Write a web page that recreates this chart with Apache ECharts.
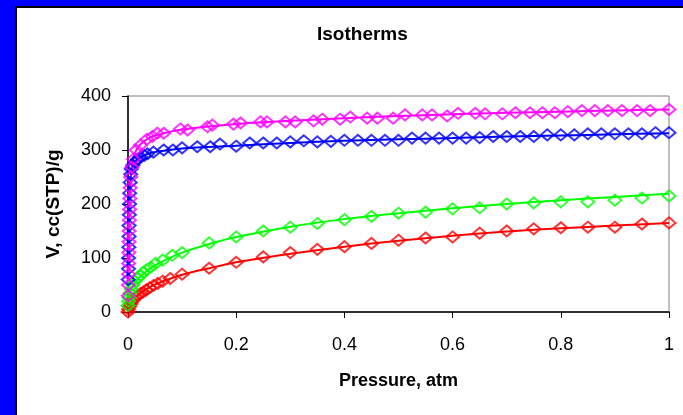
<!DOCTYPE html>
<html><head><meta charset="utf-8">
<script src="https://cdn.jsdelivr.net/npm/echarts@6/dist/echarts.min.js"></script>
<style>html,body{margin:0;padding:0;background:#fff}#c{width:683px;height:415px}</style>
</head><body><div id="c"></div>
<script>
const titleText = 'Isotherms';
const xName = 'Pressure, atm';
const yName = 'V, cc(STP)/g';
const xTicks = [0, 0.2, 0.4, 0.6, 0.8, 1];
const yTicks = [0, 100, 200, 300, 400];

// measured points [pressure, volume]
const redPts = [[0,0],[0.001,5],[0.003,10],[0.005,15],[0.007,19],[0.01,23],[0.014,27],[0.018,31],[0.023,34],[0.028,37],[0.034,41],[0.04,45],[0.047,49],[0.055,53],[0.064,57],[0.078,62],[0.1,70],[0.15,81],[0.2,92],[0.25,102],[0.3,110],[0.35,116],[0.4,121],[0.45,127],[0.5,133],[0.55,137],[0.6,139],[0.65,146],[0.7,150],[0.75,154],[0.8,156],[0.85,157],[0.9,157],[0.95,163],[1.0,165]];
const greenPts = [[0,12],[0.001,20],[0.002,27],[0.004,35],[0.006,42],[0.009,50],[0.013,57],[0.018,63],[0.023,68],[0.028,73],[0.034,78],[0.042,83],[0.051,90],[0.064,96],[0.082,105],[0.1,110],[0.15,128],[0.2,139],[0.25,150],[0.3,157],[0.35,164],[0.4,171],[0.45,177],[0.5,183],[0.55,185],[0.6,191],[0.65,193],[0.7,200],[0.75,202],[0.8,204],[0.85,204],[0.9,207],[0.95,211],[1.0,215]];
const bluePts = [[0.0005,60],[0.001,80],[0.001,100],[0.0015,120],[0.002,140],[0.002,160],[0.0025,180],[0.003,200],[0.003,220],[0.004,240],[0.005,255],[0.006,265],[0.009,272],[0.013,278],[0.018,283],[0.023,287],[0.03,290],[0.036,293],[0.047,296],[0.066,300],[0.083,300],[0.1,304],[0.128,306],[0.152,306],[0.17,311],[0.2,307],[0.225,313],[0.25,313],[0.275,313],[0.3,315],[0.325,317],[0.35,315],[0.375,316],[0.4,318],[0.425,318],[0.45,318],[0.475,318],[0.5,318],[0.525,322],[0.55,322],[0.575,322],[0.6,322],[0.625,322],[0.65,323],[0.675,325],[0.7,325],[0.725,325],[0.75,325],[0.775,328],[0.8,328],[0.825,328],[0.85,330],[0.875,330],[0.9,330],[0.925,330],[0.95,330],[0.975,332],[1.0,332]];
const magentaPts = [[0.0005,30],[0.0008,50],[0.001,70],[0.0012,90],[0.0015,110],[0.0018,130],[0.002,150],[0.0025,170],[0.003,190],[0.0035,210],[0.004,230],[0.005,250],[0.007,268],[0.01,283],[0.015,300],[0.023,309],[0.035,320],[0.045,325],[0.054,331],[0.066,331],[0.097,339],[0.11,337],[0.147,343],[0.156,346],[0.195,348],[0.208,350],[0.245,352],[0.257,352],[0.291,352],[0.309,352],[0.343,354],[0.359,357],[0.392,357],[0.411,361],[0.442,359],[0.461,359],[0.49,359],[0.512,365],[0.544,365],[0.562,365],[0.59,363],[0.61,368],[0.642,368],[0.66,367],[0.692,367],[0.716,369],[0.743,369],[0.766,369],[0.789,369],[0.813,371],[0.839,373],[0.863,373],[0.887,373],[0.913,373],[0.941,373],[0.965,373],[1.0,375]];

// fitted curves [pressure, volume]
const redFit = [[0,0],[0.005,14],[0.01,22],[0.02,33],[0.04,46],[0.06,55],[0.1,69],[0.15,81],[0.2,92],[0.3,108],[0.4,121],[0.5,132],[0.6,141],[0.7,149],[0.8,155],[0.9,160],[1.0,165]];
const greenFit = [[0,10],[0.005,40],[0.01,50],[0.02,63],[0.04,80],[0.06,92],[0.1,110],[0.15,126],[0.2,139],[0.3,158],[0.4,172],[0.5,183],[0.6,192],[0.7,200],[0.8,207],[0.9,213],[1.0,219]];
const blueFit = [[0,40],[0.001,110],[0.002,170],[0.003,215],[0.005,250],[0.01,272],[0.02,285],[0.04,294],[0.07,299],[0.1,303],[0.2,308],[0.3,313],[0.4,317],[0.5,320],[0.6,322],[0.7,325],[0.8,327],[0.9,329],[1.0,331]];
const magentaFit = [[0,20],[0.001,90],[0.002,160],[0.003,210],[0.005,250],[0.01,285],[0.02,307],[0.04,323],[0.07,332],[0.1,338],[0.2,348],[0.3,354],[0.4,359],[0.5,363],[0.6,366],[0.7,369],[0.8,371],[0.9,373],[1.0,375]];

const colors = {red:'#ff0000', green:'#00ff00', blue:'#0000ff', magenta:'#ff00ff'};
const FONT = '"Liberation Sans", Arial, sans-serif';

function lineS(data, c){
  return {type:'line', data, smooth:0.3, showSymbol:false, symbol:'none', lineStyle:{color:c,width:2}, z:2, silent:true};
}
function ptS(data, c){
  return {type:'scatter', data, symbol:'diamond', symbolSize:[13,11],
    itemStyle:{color:'rgba(0,0,0,0)', borderColor:c, borderWidth:2}, z:3, silent:true};
}

const chart = echarts.init(document.getElementById('c'), null, {renderer:'canvas'});
chart.setOption({
  animation:false,
  backgroundColor:'#fff',
  textStyle:{fontFamily:FONT},
  title:{text:titleText, left:312, top:20, textStyle:{fontFamily:FONT, fontSize:19, fontWeight:'bold', color:'#000'}},
  grid:{left:128, right:14, top:96, bottom:103, show:true, borderColor:'#808080', borderWidth:1, backgroundColor:'transparent'},
  xAxis:{type:'value', min:0, max:1, interval:0.2,
    name:xName, nameLocation:'middle', nameGap:60,
    nameTextStyle:{fontFamily:FONT, fontSize:18, fontWeight:'bold', color:'#000'},
    axisLine:{show:true, lineStyle:{color:'#000', width:1.5}},
    axisTick:{show:true, inside:false, length:6, lineStyle:{color:'#000'}},
    axisLabel:{fontFamily:FONT, fontSize:18, color:'#000', margin:24, formatter:v=>String(+v.toFixed(1))},
    splitLine:{show:false}},
  yAxis:{type:'value', min:0, max:400, interval:100,
    name:yName, nameLocation:'middle', nameGap:65, nameRotate:90,
    nameTextStyle:{fontFamily:FONT, fontSize:19, fontWeight:'bold', color:'#000'},
    axisLine:{show:true, lineStyle:{color:'#000', width:1.5}},
    axisTick:{show:true, inside:false, length:6, lineStyle:{color:'#000'}},
    axisLabel:{fontFamily:FONT, fontSize:18, color:'#000', margin:17},
    splitLine:{show:false}},
  graphic:[
    {type:'rect', shape:{x:0,y:0,width:15,height:415}, style:{fill:'#0000ff'}, z:100},
    {type:'rect', shape:{x:0,y:0,width:683,height:6}, style:{fill:'#0000ff'}, z:100},
    {type:'rect', shape:{x:15,y:6,width:2,height:409}, style:{fill:'#000'}, z:100},
    {type:'rect', shape:{x:15,y:6,width:668,height:2}, style:{fill:'#000'}, z:100}
  ],
  series:[
    lineS(redFit, colors.red), lineS(greenFit, colors.green), lineS(blueFit, colors.blue), lineS(magentaFit, colors.magenta),
    ptS(redPts, colors.red), ptS(greenPts, colors.green), ptS(bluePts, colors.blue), ptS(magentaPts, colors.magenta)
  ]
});
</script></body></html>
